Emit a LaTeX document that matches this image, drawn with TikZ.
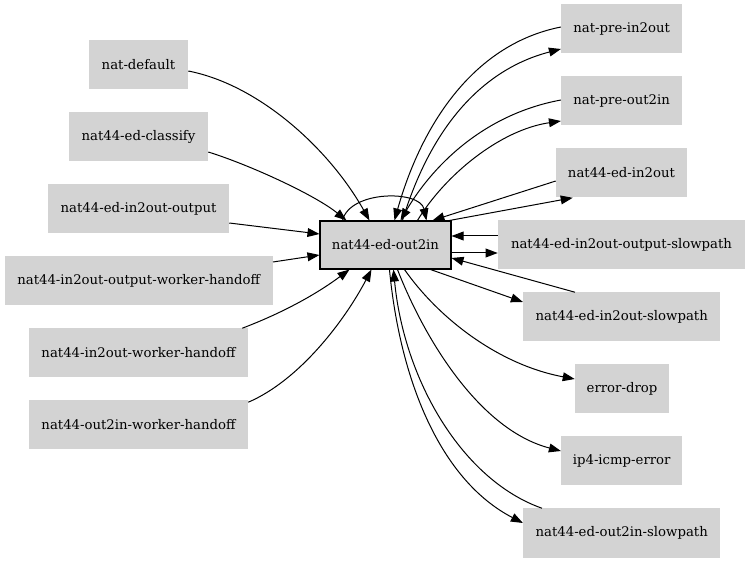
\documentclass[tikz,border=0pt]{standalone}
\usepackage{fontspec}
\setmainfont{DejaVu Serif}
\usetikzlibrary{arrows.meta,calc}
\definecolor{boxgray}{HTML}{D3D3D3}
\tikzset{
  gbox/.style={fill=boxgray, inner sep=0pt, minimum height=49*0.75pt,
    font=\fontsize{9.95pt}{12pt}\selectfont},
  mainbox/.style={gbox, draw=black, line width=0.8pt, minimum height=48*0.75pt},
  edge/.style={line width=0.75pt, -{Triangle[length=9pt,width=6.6pt]}},
}
\begin{document}
\begin{tikzpicture}[x=0.75pt,y=-0.75pt]
\useasboundingbox (0,0) rectangle (751,563);
% nodes
\node[mainbox, minimum width=131*0.75pt] (c) at (385.5,245) {nat44-ed-out2in};
\node[gbox, minimum width=99*0.75pt]  (nd)   at (138.5,65)  {nat-default};
\node[gbox, minimum width=139*0.75pt] (cls)  at (138.5,137) {nat44-ed-classify};
\node[gbox, minimum width=181*0.75pt] (io)   at (138.5,209) {nat44-ed-in2out-output};
\node[gbox, minimum width=268*0.75pt] (iowh) at (138.7,281) {nat44-in2out-output-worker-handoff};
\node[gbox, minimum width=219*0.75pt] (iwh)  at (138.5,353) {nat44-in2out-worker-handoff};
\node[gbox, minimum width=219*0.75pt] (owh)  at (138.5,425) {nat44-out2in-worker-handoff};
\node[gbox, minimum width=121*0.75pt] (pi)   at (621.7,29)  {nat-pre-in2out};
\node[gbox, minimum width=121*0.75pt] (po)   at (621.7,101) {nat-pre-out2in};
\node[gbox, minimum width=131*0.75pt] (ei)   at (621.5,173) {nat44-ed-in2out};
\node[gbox, minimum width=247*0.75pt] (ios)  at (621.5,245) {nat44-ed-in2out-output-slowpath};
\node[gbox, minimum width=197*0.75pt] (is)   at (621.7,317) {nat44-ed-in2out-slowpath};
\node[gbox, minimum width=94*0.75pt]  (ed)   at (622,389)   {error-drop};
\node[gbox, minimum width=121*0.75pt] (ie)   at (621.7,461) {ip4-icmp-error};
\node[gbox, minimum width=197*0.75pt] (os)   at (621.7,533) {nat44-ed-out2in-slowpath};
% left inputs
\draw[edge] ($(nd.east)+(0,6)$) .. controls (260,85) and (330,150) .. ($(c.north west)+(50,0)$);
\draw[edge] ($(cls.east)+(0,15)$) .. controls (250,165) and (315,195) .. ($(c.north west)+(27,0)$);
\draw[edge] ($(io.east)+(0,14)$) -- ($(c.west)+(0,-11)$);
\draw[edge] ($(iowh.east)+(0,-19)$) -- ($(c.west)+(0,10)$);
\draw[edge] ($(iwh.north east)+(-6,0)$) .. controls (290,310) and (322,290) .. ($(c.south west)+(30,0)$);
\draw[edge] ($(owh.north east)+(0,2)$) .. controls (300,380) and (345,320) .. ($(c.south west)+(52,0)$);
% self loop
\draw[edge] ($(c.north west)+(23,0)$) .. controls (350,190) and (420,190) .. ($(c.north west)+(107,0)$);
% top right
\draw[edge] ($(pi.west)+(0,-2)$) .. controls (470,45) and (420,130) .. ($(c.north west)+(75,0)$);
\draw[edge] ($(c.north west)+(83,0)$) .. controls (430,130) and (480,70) .. ($(pi.west)+(0,20)$);
\draw[edge] ($(po.west)+(0,-1)$) .. controls (480,115) and (430,170) .. ($(c.north west)+(81,0)$);
\draw[edge] ($(c.north west)+(98,0)$) .. controls (445,175) and (500,130) .. ($(po.west)+(0,20)$);
\draw[edge] ($(ei.west)+(0,8)$) -- ($(c.north west)+(113,0)$);
\draw[edge] ($(c.north east)+(-2,0)$) -- ($(ei.south west)+(17,0)$);
\draw[edge] ($(ios.west)+(0,-9)$) -- ($(c.east)+(0,-9)$);
\draw[edge] ($(c.east)+(0,8)$) -- ($(ios.west)+(0,8)$);
\draw[edge] ($(is.north west)+(52,0)$) -- ($(c.east)+(0,13)$);
\draw[edge] ($(c.south east)+(-21,0)$) -- ($(is.west)+(0,-15)$);
% bottom right
\draw[edge] ($(c.south west)+(85,0)$) .. controls (440,320) and (500,365) .. ($(ed.west)+(0,-10)$);
\draw[edge] ($(c.south west)+(78,0)$) .. controls (425,340) and (480,430) .. ($(ie.west)+(0,-10)$);
\draw[edge] ($(c.south west)+(70,0)$) .. controls (400,380) and (440,480) .. ($(os.west)+(0,-10)$);
\draw[edge] ($(os.north west)+(19,0)$) .. controls (462,480) and (404,380) .. ($(c.south west)+(74,0)$);
\end{tikzpicture}
\end{document}
